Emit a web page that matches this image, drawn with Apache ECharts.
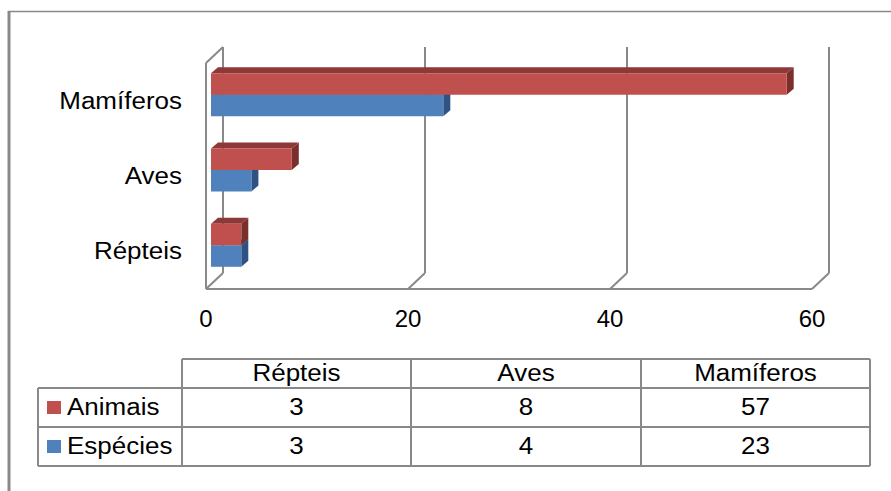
<!DOCTYPE html>
<html>
<head>
<meta charset="utf-8">
<script src="https://cdn.jsdelivr.net/npm/echarts@6/dist/echarts.min.js"></script>
<style>
  html, body { margin: 0; padding: 0; background: #fff; }
  #chart { width: 891px; height: 491px; }
</style>
</head>
<body>
<div id="chart"></div>
<script>
// Data
const categories = ['Répteis', 'Aves', 'Mamíferos'];
const seriesNames = ['Animais', 'Espécies'];
const animais = [3, 8, 57];
const especies = [3, 4, 23];
const xTicks = [0, 20, 40, 60];

// Styling
const FONT = '"Liberation Sans", Arial, sans-serif';
const FS = 23;                   // text size
const SX = 1.13;                 // horizontal stretch of the text
const LINE = '#898989';
const COLORS = {
  Animais:  { front: '#C0504D', top: '#8E3937', side: '#7A2F2D' },
  'Espécies': { front: '#4F81BD', top: '#3B6497', side: '#2E5282' }
};
const WALL_DX = 17, WALL_DY = 16;   // depth of the back wall
const PLANE_DX = 5, PLANE_DY = 6;   // bars sit slightly behind the front plane
const BAR_DX = 7, BAR_DY = 6;       // bar depth

const chart = echarts.init(document.getElementById('chart'), null, { renderer: 'svg' });

function stretchedText(x, y, text, align, extra) {
  return Object.assign({
    type: 'text', x: x, y: y, scaleX: SX, scaleY: 1,
    style: { text: text, x: 0, y: 0, align: align, verticalAlign: 'middle',
             fontSize: FS, fontFamily: FONT, fill: '#000' }
  }, extra || {});
}

// Walls: back grid lines, floor diagonals, left wall
function renderWalls(params, api) {
  const cs = params.coordSys;
  const top = cs.y, bottom = cs.y + cs.height;
  const v = api.value(0);
  const px = api.coord([v, 0])[0];
  const ls = { stroke: LINE, lineWidth: 2 };
  const kids = [
    { type: 'line', shape: { x1: px + WALL_DX, y1: top - WALL_DY, x2: px + WALL_DX, y2: bottom - WALL_DY }, style: ls },
    { type: 'line', shape: { x1: px + WALL_DX, y1: bottom - WALL_DY, x2: px, y2: bottom }, style: ls }
  ];
  if (params.dataIndex === 0) {
    const pxEnd = api.coord([xTicks[xTicks.length - 1], 0])[0];
    kids.push(
      { type: 'line', shape: { x1: px, y1: top, x2: px, y2: bottom }, style: ls },
      { type: 'line', shape: { x1: px, y1: top, x2: px + WALL_DX, y2: top - WALL_DY }, style: ls },
      { type: 'line', shape: { x1: px, y1: bottom, x2: pxEnd, y2: bottom }, style: ls }
    );
  }
  return { type: 'group', children: kids };
}

// 3D-looking horizontal bars; slot 0 = upper bar, slot 1 = lower bar
function makeBarRenderer(colors, slot) {
  return function (params, api) {
    const v = api.value(0), cat = api.value(1);
    const base = api.coord([0, cat]);
    const end = api.coord([v, cat]);
    const band = api.size([0, 1])[1];
    const h = band * 0.285;
    const x0 = base[0] + PLANE_DX, x1 = end[0] + PLANE_DX;
    const yc = base[1] - PLANE_DY;
    const y0 = slot === 0 ? yc - h : yc;
    const y1 = y0 + h;
    return {
      type: 'group',
      children: [
        { type: 'polygon', shape: { points: [[x0, y0], [x0 + BAR_DX, y0 - BAR_DY], [x1 + BAR_DX, y0 - BAR_DY], [x1, y0]] },
          style: { fill: colors.top } },
        { type: 'polygon', shape: { points: [[x1, y0], [x1 + BAR_DX, y0 - BAR_DY], [x1 + BAR_DX, y1 - BAR_DY], [x1, y1]] },
          style: { fill: colors.side } },
        { type: 'rect', shape: { x: x0, y: y0, width: x1 - x0, height: h },
          style: { fill: colors.front } }
      ]
    };
  };
}

// Category labels on the left
function renderCatLabels(params, api) {
  const cat = api.value(1);
  const p = api.coord([0, cat]);
  return stretchedText(p[0] - 24, p[1], categories[cat], 'right');
}

// Data table below the chart
const colX = [38, 182, 411, 641, 870];
const rowY = [359, 388, 427, 466];
const tableGraphics = [];
const tl = { stroke: LINE, lineWidth: 2 };
tableGraphics.push({ type: 'line', shape: { x1: colX[1], y1: rowY[0], x2: colX[4], y2: rowY[0] }, style: tl });
for (let r = 1; r < rowY.length; r++) {
  tableGraphics.push({ type: 'line', shape: { x1: colX[0], y1: rowY[r], x2: colX[4], y2: rowY[r] }, style: tl });
}
tableGraphics.push({ type: 'line', shape: { x1: colX[0], y1: rowY[1], x2: colX[0], y2: rowY[3] }, style: tl });
for (let c = 1; c < colX.length; c++) {
  tableGraphics.push({ type: 'line', shape: { x1: colX[c], y1: rowY[0], x2: colX[c], y2: rowY[3] }, style: tl });
}
categories.forEach((cat, i) => {
  const cx = (colX[i + 1] + colX[i + 2]) / 2;
  tableGraphics.push(stretchedText(cx, (rowY[0] + rowY[1]) / 2, cat, 'center'));
});
[animais, especies].forEach((vals, r) => {
  const cy = (rowY[r + 1] + rowY[r + 2]) / 2;
  const name = seriesNames[r];
  tableGraphics.push({ type: 'rect', shape: { x: 47, y: cy - 6.5, width: 14, height: 13 },
                       style: { fill: COLORS[name].front } });
  tableGraphics.push(stretchedText(67, cy, name, 'left'));
  vals.forEach((v, i) => {
    const cx = (colX[i + 1] + colX[i + 2]) / 2;
    tableGraphics.push(stretchedText(cx, cy, String(v), 'center'));
  });
});
// Outer frame
tableGraphics.push({ type: 'line', shape: { x1: 8, y1: 11.5, x2: 891, y2: 11.5 }, style: { stroke: LINE, lineWidth: 1.5 } });
tableGraphics.push({ type: 'line', shape: { x1: 9, y1: 11, x2: 9, y2: 491 }, style: { stroke: LINE, lineWidth: 3 } });

const option = {
  animation: false,
  backgroundColor: '#fff',
  textStyle: { fontFamily: FONT },
  grid: { left: 206, top: 63, width: 606, height: 226 },
  xAxis: {
    type: 'value', min: 0, max: 60, interval: 20,
    axisLine: { show: false }, axisTick: { show: false }, splitLine: { show: false },
    axisLabel: { fontSize: 24, color: '#000', margin: 17, fontFamily: FONT }
  },
  yAxis: {
    type: 'category', data: categories,
    axisLine: { show: false }, axisTick: { show: false }, splitLine: { show: false },
    axisLabel: { show: false }
  },
  graphic: tableGraphics,
  series: [
    { type: 'custom', name: 'walls', renderItem: renderWalls, data: xTicks.map(v => [v, 0]), silent: true, z: 1 },
    { type: 'custom', name: seriesNames[1], renderItem: makeBarRenderer(COLORS['Espécies'], 1),
      data: especies.map((v, i) => [v, i]), encode: { x: 0, y: 1 }, z: 2 },
    { type: 'custom', name: seriesNames[0], renderItem: makeBarRenderer(COLORS.Animais, 0),
      data: animais.map((v, i) => [v, i]), encode: { x: 0, y: 1 }, z: 3 },
    { type: 'custom', name: 'labels', renderItem: renderCatLabels,
      data: categories.map((c, i) => [0, i]), silent: true, z: 4 }
  ]
};
chart.setOption(option);
</script>
</body>
</html>
